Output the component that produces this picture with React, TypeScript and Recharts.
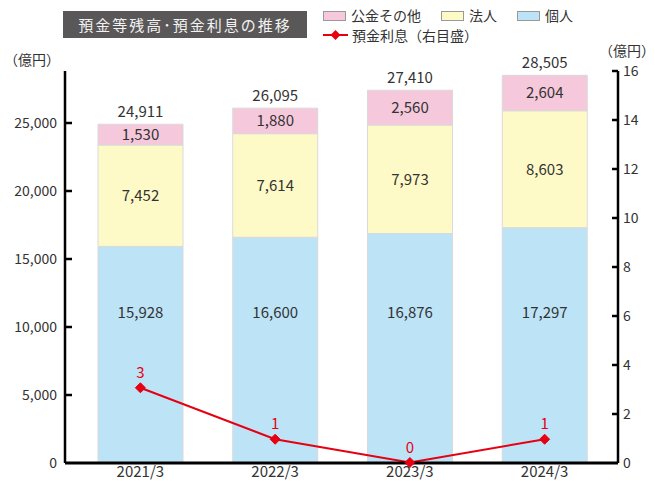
import React from "react";
import {
  ComposedChart,
  Bar,
  Line,
  XAxis,
  YAxis,
  LabelList,
} from "recharts";

const categories = ["2021/3", "2022/3", "2023/3", "2024/3"];
const individual = [15928, 16600, 16876, 17297];
const corporate = [7452, 7614, 7973, 8603];
const publicOther = [1530, 1880, 2560, 2604];
const totals = [24911, 26095, 27410, 28505];
const interest = [3.07, 0.97, 0.02, 0.97];
const leftTicks = [0, 5000, 10000, 15000, 20000, 25000];
const rightTicks = [0, 2, 4, 6, 8, 10, 12, 14, 16];
// level (in 億円) at which the 個人 value label sits
const individualLabelLevel = 11000;

const data = categories.map((c, i) => ({
  name: c,
  individual: individual[i],
  corporate: corporate[i],
  publicOther: publicOther[i],
  total: totals[i],
  interest: interest[i],
}));

const FONT = '"Noto Sans CJK JP", "Noto Sans", sans-serif';
const TXT = "#333";
const RED = "#e60012";

const fmt = (v: any) => Number(v).toLocaleString("en-US");

const LeftTick = (props: any) => {
  const { x, y, payload } = props;
  return (
    <g>
      {payload.value !== 0 && (
        <line x1={x + 8} x2={x + 15} y1={y} y2={y} stroke="#000" strokeWidth={2.5} />
      )}
      <text x={x} y={y} dy={5} textAnchor="end" fontSize={14} fill={TXT} fontFamily={FONT}>
        {fmt(payload.value)}
      </text>
    </g>
  );
};

const RightTick = (props: any) => {
  const { x, y, payload } = props;
  return (
    <g>
      {payload.value !== 0 && (
        <line x1={x - 5} x2={x - 11} y1={y} y2={y} stroke="#000" strokeWidth={2.5} />
      )}
      <text x={x} y={y} dy={5} textAnchor="start" fontSize={14} fill={TXT} fontFamily={FONT}>
        {payload.value}
      </text>
    </g>
  );
};

const IndividualLabel = (props: any) => {
  const { x, y, width, height, value } = props;
  const bottom = y + height;
  const ly = bottom - (height * individualLabelLevel) / Number(value);
  return (
    <text
      x={x + width / 2}
      y={ly}
      dy={5}
      textAnchor="middle"
      fontSize={15}
      fill={TXT}
      fontFamily={FONT}
    >
      {fmt(value)}
    </text>
  );
};

const Diamond = (props: any) => {
  const { cx, cy } = props;
  if (cx == null || cy == null) return null;
  const r = 5;
  return (
    <path
      d={`M${cx},${cy - r}L${cx + r},${cy}L${cx},${cy + r}L${cx - r},${cy}Z`}
      fill={RED}
      stroke={RED}
    />
  );
};

const InterestLabel = (props: any) => {
  const { x, y, value } = props;
  return (
    <text x={x} y={y - 10} textAnchor="middle" fontSize={15} fill={RED} fontFamily={FONT}>
      {Math.round(value)}
    </text>
  );
};

const legendBox = (color: string) => (
  <span
    style={{
      display: "inline-block",
      width: 21,
      height: 8,
      background: color,
      border: "1px solid #999",
      marginRight: 5,
      verticalAlign: "middle",
      position: "relative",
      top: -1,
    }}
  />
);

export default function App() {
  return (
    <div
      style={{
        position: "absolute",
        left: 0,
        top: 0,
        width: 655,
        height: 481,
        background: "#fff",
        fontFamily: FONT,
        overflow: "hidden",
      }}
    >
      <div
        style={{
          position: "absolute",
          left: 63,
          top: 11,
          width: 244,
          height: 27,
          background: "#595757",
          color: "#f2f2f2",
          fontSize: 15,
          lineHeight: "27px",
          textAlign: "center",
          letterSpacing: 2,
        }}
      >
        預金等残高･預金利息の推移
      </div>
      <div
        style={{
          position: "absolute",
          left: 323,
          top: 5,
          fontSize: 14,
          color: TXT,
          lineHeight: "20px",
          whiteSpace: "nowrap",
        }}
      >
        <div>
          {legendBox("#f5c8dc")}
          <span style={{ marginRight: 20 }}>公金その他</span>
          {legendBox("#fefac8")}
          <span style={{ marginRight: 20 }}>法人</span>
          {legendBox("#bde3f7")}
          <span>個人</span>
        </div>
        <div style={{ display: "flex", alignItems: "center" }}>
          <svg width={25} height={12} style={{ marginRight: 4 }}>
            <line x1={0} x2={25} y1={6} y2={6} stroke={RED} strokeWidth={2} />
            <path d="M12.5,1L17.5,6L12.5,11L7.5,6Z" fill={RED} />
          </svg>
          <span>預金利息（右目盛）</span>
        </div>
      </div>
      <div style={{ position: "absolute", left: 4, top: 49, fontSize: 14, color: TXT }}>
        （億円）
      </div>
      <div
        style={{
          position: "absolute",
          left: 599,
          top: 40,
          fontSize: 14,
          color: TXT,
          whiteSpace: "nowrap",
        }}
      >
        （億円）
      </div>
      <div style={{ position: "absolute", left: 0, top: 0 }}>
        <ComposedChart
          width={655}
          height={481}
          data={data}
          margin={{ top: 71, right: 0, bottom: 0, left: 8 }}
          barCategoryGap={0}
        >
          <XAxis
            dataKey="name"
            axisLine={{ stroke: "#000", strokeWidth: 3 }}
            tickLine={false}
            tickSize={0}
            tickMargin={3}
            height={18}
            padding={{ left: 8, right: 6 }}
            tick={{ fontSize: 15, fill: TXT, fontFamily: FONT }}
            interval={0}
          />
          <YAxis
            yAxisId="left"
            orientation="left"
            width={57}
            domain={[0, 28824]}
            ticks={leftTicks}
            tickSize={0}
            tickMargin={8}
            axisLine={{ stroke: "#000", strokeWidth: 2.5 }}
            tickLine={false}
            tick={<LeftTick />}
            allowDataOverflow
          />
          <YAxis
            yAxisId="right"
            orientation="right"
            width={37}
            domain={[0, 16]}
            ticks={rightTicks}
            tickSize={0}
            tickMargin={5}
            axisLine={{ stroke: "#000", strokeWidth: 2.5 }}
            tickLine={false}
            tick={<RightTick />}
          />
          <Bar
            yAxisId="left"
            dataKey="individual"
            stackId="a"
            fill="#bde3f7"
            stroke="#d9d9d9"
            strokeWidth={1}
            barSize={85}
            isAnimationActive={false}
          >
            <LabelList dataKey="individual" content={<IndividualLabel />} />
          </Bar>
          <Bar
            yAxisId="left"
            dataKey="corporate"
            stackId="a"
            fill="#fefac8"
            stroke="#d9d9d9"
            strokeWidth={1}
            barSize={85}
            isAnimationActive={false}
          >
            <LabelList
              dataKey="corporate"
              position="center"
              formatter={fmt}
              fill={TXT}
              fontSize={15}
              fontFamily={FONT}
            />
          </Bar>
          <Bar
            yAxisId="left"
            dataKey="publicOther"
            stackId="a"
            fill="#f5c8dc"
            stroke="#d9d9d9"
            strokeWidth={1}
            barSize={85}
            isAnimationActive={false}
          >
            <LabelList
              dataKey="publicOther"
              position="center"
              formatter={fmt}
              fill={TXT}
              fontSize={15}
              fontFamily={FONT}
            />
            <LabelList
              dataKey="total"
              position="top"
              offset={7}
              formatter={fmt}
              fill={TXT}
              fontSize={15}
              fontFamily={FONT}
            />
          </Bar>
          <Line
            yAxisId="right"
            dataKey="interest"
            stroke={RED}
            strokeWidth={2}
            dot={<Diamond />}
            activeDot={false}
            isAnimationActive={false}
          >
            <LabelList dataKey="interest" content={<InterestLabel />} />
          </Line>
        </ComposedChart>
      </div>
    </div>
  );
}
